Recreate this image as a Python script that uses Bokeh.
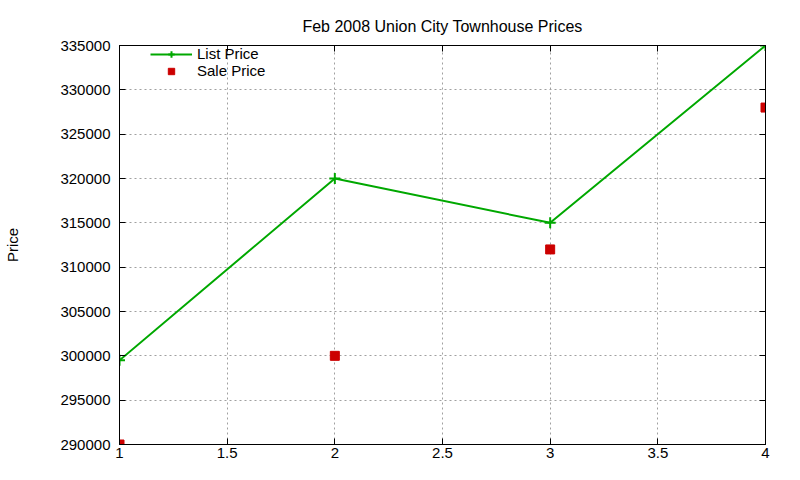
from bokeh.plotting import figure
from bokeh.models import Range1d, FixedTicker, LinearAxis, Legend, LegendItem
from bokeh.embed import file_html
from bokeh.resources import INLINE

# Data
months = [1, 2, 3, 4]
list_price = [299500, 320000, 315000, 335000]
sale_price = [290000, 300000, 312000, 328000]

x_ticks = [1, 1.5, 2, 2.5, 3, 3.5, 4]
x_tick_labels = ["1", "1.5", "2", "2.5", "3", "3.5", "4"]
y_ticks = [290000, 295000, 300000, 305000, 310000, 315000, 320000, 325000, 330000, 335000]
y_tick_labels = [str(v) for v in y_ticks]

FONT = "Liberation Sans"
FS = "15px"
GREEN = "#00a800"
RED = "#cc0000"

p = figure(width=784, height=464, output_backend="svg", toolbar_location=None,
           x_range=Range1d(1, 4), y_range=Range1d(290000, 335000),
           title="Feb 2008 Union City Townhouse Prices",
           min_border_left=119, min_border_right=19, min_border_top=45, min_border_bottom=20)

p.title.align = "center"
p.title.text_font = FONT
p.title.text_font_size = "16px"
p.title.text_font_style = "normal"
p.title.text_color = "black"
p.title.standoff = 21
p.outline_line_color = "black"
p.outline_line_width = 1

for ax in [p.xaxis[0], p.yaxis[0]]:
    ax.axis_line_color = "black"
    ax.major_tick_in = 6
    ax.major_tick_out = 0
    ax.minor_tick_line_color = None
    ax.major_label_text_font = FONT
    ax.major_label_text_font_size = FS
    ax.major_label_text_color = "black"

p.xaxis[0].ticker = FixedTicker(ticks=x_ticks)
p.xaxis[0].major_label_overrides = dict(zip(x_ticks, x_tick_labels))
p.xaxis[0].major_label_standoff = 3
p.yaxis[0].ticker = FixedTicker(ticks=y_ticks)
p.yaxis[0].major_label_overrides = dict(zip(y_ticks, y_tick_labels))
p.yaxis[0].major_label_standoff = 9
p.yaxis[0].axis_label = "Price"
p.yaxis[0].axis_label_text_font = FONT
p.yaxis[0].axis_label_text_font_size = FS
p.yaxis[0].axis_label_text_font_style = "normal"
p.yaxis[0].axis_label_text_color = "black"
p.yaxis[0].axis_label_standoff = 36

# mirror ticks
for loc, tk in [("right", y_ticks), ("above", x_ticks)]:
    a = LinearAxis(ticker=FixedTicker(ticks=tk))
    a.major_tick_in = 6
    a.major_tick_out = 0
    a.minor_tick_line_color = None
    a.major_label_overrides = {t: "" for t in tk}
    a.major_label_text_font_size = "1px"
    a.major_label_standoff = 0
    a.axis_line_color = "black"
    p.add_layout(a, loc)

p.xgrid.ticker = FixedTicker(ticks=x_ticks)
p.ygrid.ticker = FixedTicker(ticks=y_ticks)
for g in [p.xgrid[0], p.ygrid[0]]:
    g.grid_line_color = "#a0a0a0"
    g.grid_line_dash = "2 3"
    g.grid_line_width = 1

l1 = p.line(months, list_price, line_color=GREEN, line_width=2)
s1 = p.scatter(months, list_price, marker="cross", size=11, line_color=GREEN, line_width=2)
s2 = p.scatter(months, sale_price, marker="square", size=9, fill_color=RED, line_color=RED)

legend = Legend(items=[LegendItem(label="List Price", renderers=[l1, s1]),
                       LegendItem(label="Sale Price", renderers=[s2])],
                location=(31, 365))
legend.background_fill_alpha = 0
legend.border_line_alpha = 0
legend.label_text_font = FONT
legend.label_text_font_size = FS
legend.label_text_color = "black"
legend.glyph_width = 42
legend.glyph_height = 16
legend.label_height = 16
legend.spacing = 0
legend.padding = 0
legend.margin = 0
p.add_layout(legend, "center")

open("out.html", "w").write(file_html(p, INLINE))
